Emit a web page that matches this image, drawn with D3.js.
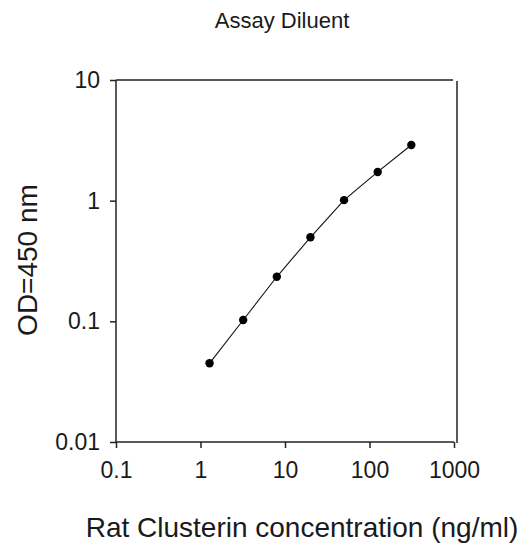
<!DOCTYPE html>
<html><head><meta charset="utf-8">
<script src="https://cdn.jsdelivr.net/npm/d3@7"></script>
<style>
html,body{margin:0;padding:0;background:#fff;}
svg{display:block;}
text{font-family:"Liberation Sans",Arial,sans-serif;fill:#1a1a1a;}
</style></head>
<body>
<script>
const concentrations = [1.28, 3.2, 8, 20, 50, 125, 312.5];
const odValues = [0.0449, 0.1026, 0.234, 0.497, 1.01, 1.73, 2.89];
const xTicks = [0.1, 1, 10, 100, 1000];
const yTicks = [0.01, 0.1, 1, 10];
const xTickLabels = ["0.1", "1", "10", "100", "1000"];
const yTickLabels = ["0.01", "0.1", "1", "10"];
const title = "Assay Diluent";
const xTitle = "Rat Clusterin concentration (ng/ml)";
const yTitle = "OD=450 nm";

const W = 532, H = 544;
const svg = d3.select("body").append("svg").attr("width", W).attr("height", H);

const x = d3.scaleLog().domain([0.1, 1000]).range([116, 454]);
const y = d3.scaleLog().domain([0.01, 10]).range([442, 80]);

// frame top & right
svg.append("line").attr("x1", x(0.1)).attr("x2", x(1000)-1).attr("y1", y(10)).attr("y2", y(10))
  .attr("stroke", "#222").attr("stroke-width", 1.5);
svg.append("line").attr("x1", x(1000)+3).attr("x2", x(1000)+3).attr("y1", y(10)+1).attr("y2", y(0.01)+1)
  .attr("stroke", "#222").attr("stroke-width", 1.5);

const xAxis = d3.axisBottom(x).tickValues(xTicks).tickSize(6).tickPadding(14)
  .tickFormat((d,i) => xTickLabels[i]);
const gx = svg.append("g").attr("transform", `translate(0,${y(0.01)})`).call(xAxis);
const yAxis = d3.axisLeft(y).tickValues(yTicks).tickSize(6).tickPadding(10)
  .tickFormat((d,i) => yTickLabels[i]);
const gy = svg.append("g").attr("transform", `translate(${x(0.1)},0)`).call(yAxis);
[gx, gy].forEach(g => {
  g.select(".domain").attr("stroke", "#222").attr("stroke-width", 1.5);
  g.selectAll(".tick line").attr("stroke", "#222").attr("stroke-width", 1.5);
  g.selectAll(".tick text").attr("font-size", 23).attr("font-family", "Liberation Sans, Arial, sans-serif").attr("fill", "#1a1a1a");
});
gx.select(".domain").attr("d", `M${x(0.1)},0H${x(1000)}`);
gy.select(".domain").attr("d", `M0,${y(0.01)}V${y(10)}`);

// line and points
const pts = concentrations.map((c,i) => [c, odValues[i]]);
svg.append("path").datum(pts)
  .attr("d", d3.line().x(d => x(d[0])).y(d => y(d[1])))
  .attr("fill", "none").attr("stroke", "#111").attr("stroke-width", 1.1);
svg.selectAll("circle.pt").data(pts).enter().append("circle")
  .attr("class", "pt").attr("cx", d => x(d[0])).attr("cy", d => y(d[1])).attr("r", 4.2)
  .attr("fill", "#000");

// titles
svg.append("text").attr("x", 282).attr("y", 28).attr("text-anchor", "middle")
  .attr("font-size", 22).text(title);
svg.append("text").attr("transform", "translate(37,260) rotate(-90)").attr("text-anchor", "middle")
  .attr("font-size", 28).text(yTitle);
svg.append("text").attr("x", 302).attr("y", 537).attr("text-anchor", "middle")
  .attr("font-size", 28).text(xTitle);
</script>
</body></html>
